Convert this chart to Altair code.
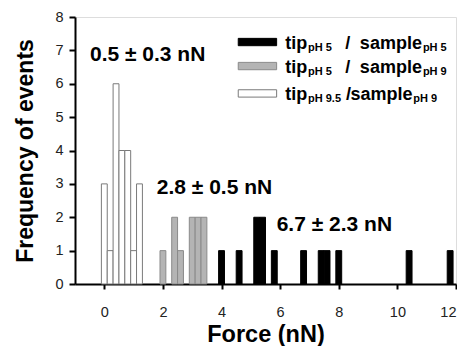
import altair as alt
import pandas as pd

# histogram bins (bin centre in nN) and counts
white_x = [0.0, 0.2, 0.4, 0.6, 0.8, 1.0, 1.2]
white_n = [3, 1, 6, 4, 4, 1, 3]
gray_x = [2.0, 2.4, 2.6, 3.0, 3.2, 3.4]
gray_n = [1, 2, 1, 2, 2, 2]
black_x = [4.0, 4.6, 5.2, 5.4, 5.8, 6.8, 7.4, 7.6, 8.0, 10.4, 11.8]
black_n = [1, 1, 2, 2, 1, 1, 1, 1, 1, 1, 1]
bin_width = 0.2

series = ["pH5/pH5", "pH5/pH9", "pH9.5/pH9"]
fills = ["#000000", "#b4b4b4", "#ffffff"]
strokes = ["#000000", "#8a8a8a", "#7a7a7a"]

x_ticks = [0, 2, 4, 6, 8, 10, 12]
y_ticks = [0, 1, 2, 3, 4, 5, 6, 7, 8]

annotations = ["0.5 ± 0.3 nN", "2.8 ± 0.5 nN", "6.7 ± 2.3 nN"]
ann_x = [-0.49, 1.79, 5.88]
ann_y = [6.86, 2.88, 1.77]

legend_y = [7.25, 6.53, 5.71]
legend_tip_sub = ["pH 5", "pH 5", "pH 9.5"]
legend_sample_sub = ["pH 5", "pH 9", "pH 9"]

rows = []
for name, xs, ns in [(series[0], black_x, black_n), (series[1], gray_x, gray_n), (series[2], white_x, white_n)]:
    for x, n in zip(xs, ns):
        rows.append({"series": name, "x0": x - bin_width / 2, "x1": x + bin_width / 2, "n": n})
df = pd.DataFrame(rows)

xscale = alt.Scale(domain=[-1, 12], nice=False, zero=False)
yscale = alt.Scale(domain=[0, 8], nice=False)
fill_scale = alt.Scale(domain=series, range=fills)
stroke_scale = alt.Scale(domain=series, range=strokes)

FONT = "Liberation Sans"
XT = "Force (nN)"
YT = "Frequency of events"

x_axis = alt.Axis(values=x_ticks, grid=False, domainWidth=2, domainColor="black",
                  tickWidth=2, tickColor="black", tickSize=5, labelFontSize=14.5,
                  labelColor="#222", labelFont=FONT, labelPadding=16,
                  labelOverlap=False,
                  titleFont=FONT, titleFontSize=23.5, titleFontWeight="bold",
                  titleColor="black", titlePadding=4)
y_axis = alt.Axis(values=y_ticks, grid=False, domainWidth=2, domainColor="black",
                  tickWidth=2, tickColor="black", tickSize=6, labelFontSize=14.5,
                  labelColor="#222", labelFont=FONT, labelPadding=6,
                  labelOverlap=False,
                  titleFont=FONT, titleFontSize=23, titleFontWeight="bold",
                  titleColor="black", titlePadding=17)


def X(field):
    return alt.X(field, scale=xscale, title=XT, axis=x_axis)


def Y(field):
    return alt.Y(field, scale=yscale, title=YT, axis=y_axis)


bars = alt.Chart(df).mark_rect(strokeWidth=1).encode(
    x=X("x0:Q"), x2="x1:Q",
    y=Y("n:Q"), y2=alt.datum(0),
    fill=alt.Fill("series:N", scale=fill_scale, legend=None),
    stroke=alt.Stroke("series:N", scale=stroke_scale, legend=None),
)

ann_df = pd.DataFrame({"t": annotations, "x": ann_x, "y": ann_y})
ann = alt.Chart(ann_df).mark_text(align="left", baseline="middle", font=FONT,
                                  fontSize=21, fontWeight="bold", color="black").encode(
    x=X("x:Q"), y=Y("y:Q"), text="t:N")

# manual legend (subscripted labels)
leg_df = pd.DataFrame({
    "series": series,
    "y": legend_y,
    "tip_sub": legend_tip_sub,
    "sample_sub": legend_sample_sub,
    "sw_x0": [4.57] * 3,
    "sw_x1": [5.88] * 3,
    "tip_x": [6.17] * 3,
    "tsub_x": [6.95] * 3,
    "slash_x": [8.22, 8.22, 8.25],
    "sample_x": [8.72, 8.72, 8.40],
    "ssub_x": [10.87, 10.87, 10.54],
})
leg_df["y0"] = leg_df["y"] - 0.11
leg_df["y1"] = leg_df["y"] + 0.11

swatch = alt.Chart(leg_df).mark_rect(strokeWidth=1).encode(
    x=X("sw_x0:Q"), x2="sw_x1:Q",
    y=Y("y0:Q"), y2="y1:Q",
    fill=alt.Fill("series:N", scale=fill_scale, legend=None),
    stroke=alt.Stroke("series:N", scale=stroke_scale, legend=None),
)


def txt(xfield, text, size, dy):
    base = alt.Chart(leg_df).mark_text(align="left", baseline="middle", font=FONT,
                                       fontSize=size, fontWeight="bold", color="black", dy=dy)
    enc = dict(x=X(f"{xfield}:Q"), y=Y("y:Q"))
    if text.endswith(":N"):
        enc["text"] = text
    else:
        enc["text"] = alt.value(text)
    return base.encode(**enc)


legend = (swatch
          + txt("tip_x", "tip", 18, 2)
          + txt("tsub_x", "tip_sub:N", 11, 6)
          + txt("slash_x", "/", 18, 2)
          + txt("sample_x", "sample", 18, 2)
          + txt("ssub_x", "sample_sub:N", 11, 6))

chart = alt.layer(bars, ann, legend).properties(
    width=381, height=267,
    padding={"left": 67, "top": 9, "right": 1, "bottom": 62},
    autosize=alt.AutoSizeParams(type="none"),
).configure_view(stroke="black", strokeWidth=2).configure(background="white")

chart.save("out.html", embed_options={"renderer": "svg", "actions": False})
